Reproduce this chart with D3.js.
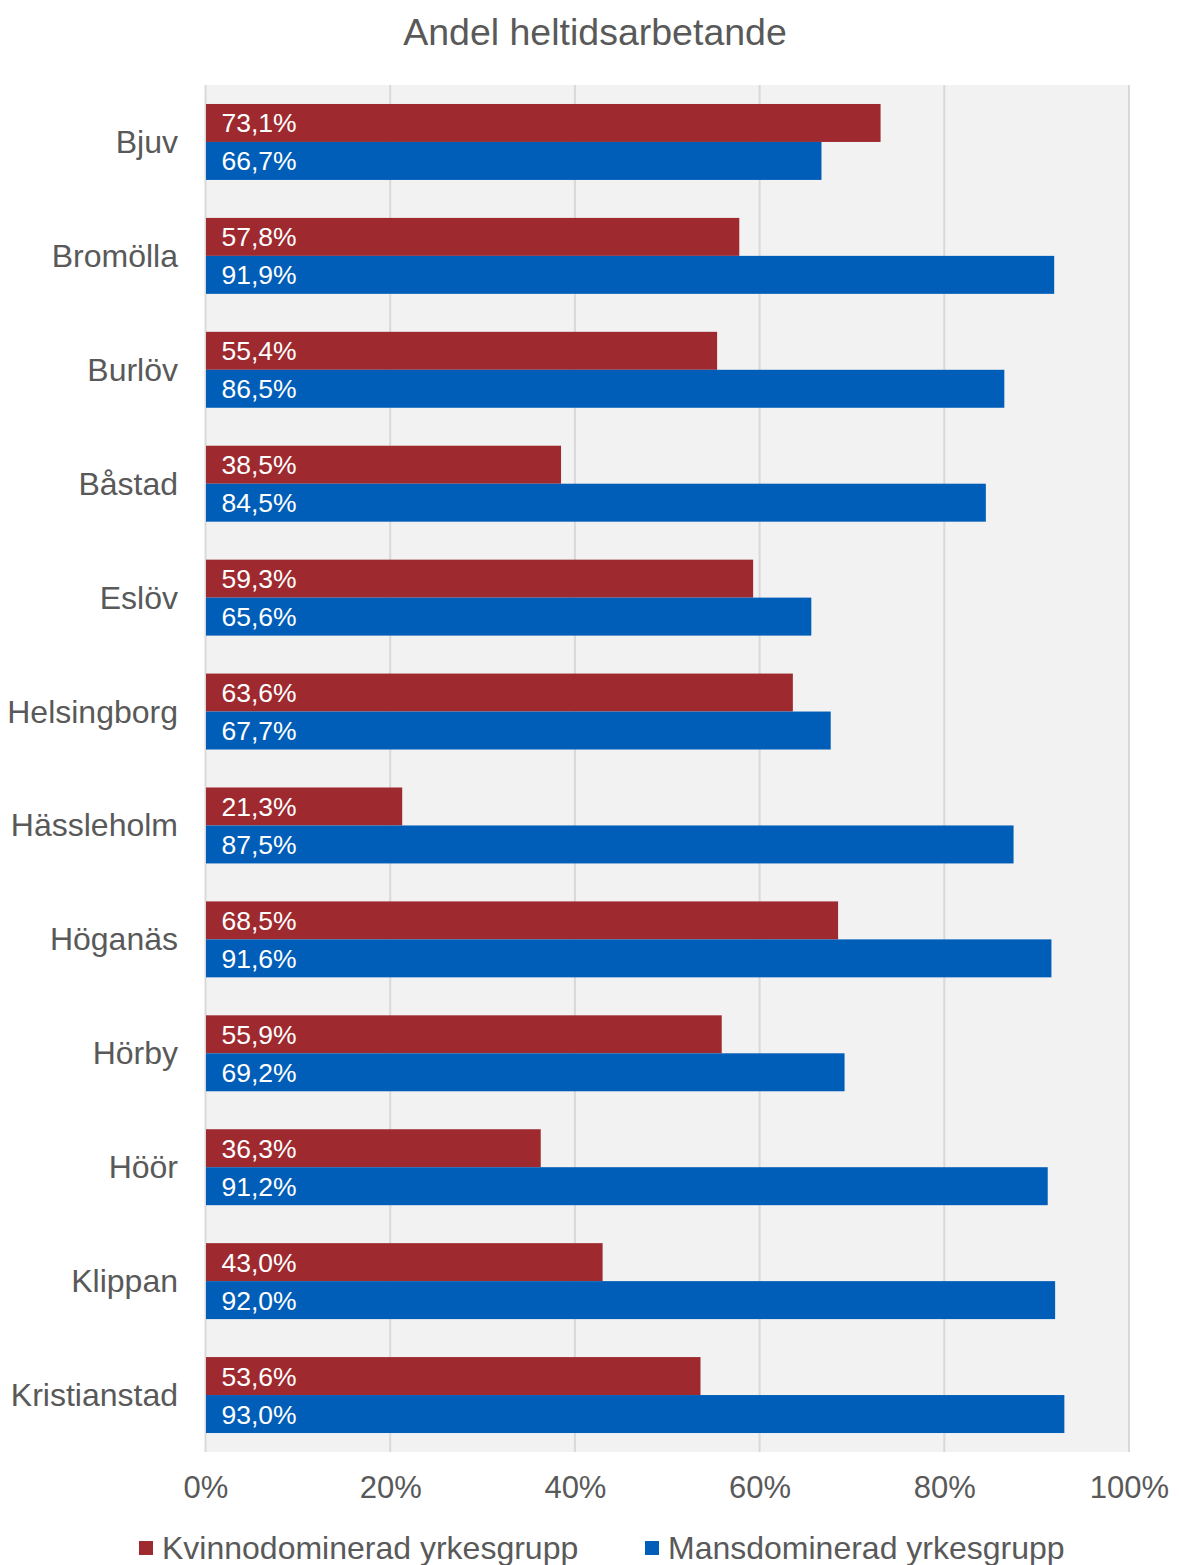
<!DOCTYPE html>
<html><head><meta charset="utf-8">
<script src="https://cdn.jsdelivr.net/npm/d3@7"></script>
<style>body{margin:0;background:#fff}svg{display:block;font-family:"Liberation Sans",Arial,sans-serif}</style>
</head><body>
<svg id="c" width="1179" height="1565"></svg>
<script>
const categories = ["Bjuv","Bromölla","Burlöv","Båstad","Eslöv","Helsingborg","Hässleholm","Höganäs","Hörby","Höör","Klippan","Kristianstad"];
const seriesNames = ["Kvinnodominerad yrkesgrupp","Mansdominerad yrkesgrupp"];
const kvinno = [73.1,57.8,55.4,38.5,59.3,63.6,21.3,68.5,55.9,36.3,43.0,53.6];
const mans = [66.7,91.9,86.5,84.5,65.6,67.7,87.5,91.6,69.2,91.2,92.0,93.0];
const xTicks = [0,20,40,60,80,100];
const colors = ["#9E2A2F","#005EB8"];

const svg = d3.select("#c");
const L = 205.5, R = 1129, T = 85, B = 1452;
const x = d3.scaleLinear().domain([0,100]).range([L,R]);
const y = d3.scaleBand().domain(categories).range([T,B]).paddingInner(0).paddingOuter(0);
const groupH = y.bandwidth()/1.5;
const ys = d3.scaleBand().domain([0,1]).range([0,groupH]);
const fmt = v => d3.format(".1f")(v).replace(".",",") + "%";

svg.append("rect").attr("x",L).attr("y",T).attr("width",R-L).attr("height",B-T).attr("fill","#f2f2f2");
svg.append("g").selectAll("line").data(xTicks).join("line")
  .attr("x1",d=>x(d)).attr("x2",d=>x(d)).attr("y1",T).attr("y2",B)
  .attr("stroke","#d9d9d9").attr("stroke-width",2);

svg.append("text").attr("x",595).attr("y",45).attr("text-anchor","middle")
  .attr("font-size",37.5).attr("fill","#595959").text("Andel heltidsarbetande");

const data = [kvinno, mans];
categories.forEach((c,i)=>{
  const g0 = y(c) + (y.bandwidth()-groupH)/2;
  data.forEach((s,j)=>{
    svg.append("rect").attr("x",x(0)+0.5).attr("y",g0+ys(j))
      .attr("width",x(s[i])-x(0)-0.5).attr("height",ys.bandwidth()).attr("fill",colors[j]);
    svg.append("text").attr("x",x(0)+16).attr("y",g0+ys(j)+ys.bandwidth()/2+9.5)
      .attr("font-size",26.5).attr("fill","#fff").text(fmt(s[i]));
  });
  svg.append("text").attr("x",178).attr("y",y(c)+y.bandwidth()/2+11)
    .attr("text-anchor","end").attr("font-size",32).attr("fill","#595959").text(c);
});

const xa = svg.append("g").attr("transform",`translate(0,${B})`)
  .call(d3.axisBottom(x).tickValues(xTicks).tickSize(0).tickPadding(24).tickFormat(d=>d+"%"));
xa.select(".domain").remove();
xa.selectAll("text").attr("font-size",31).attr("fill","#595959").attr("font-family","Liberation Sans, Arial, sans-serif");

const legX = [139, 645];
seriesNames.forEach((n,j)=>{
  svg.append("rect").attr("x",legX[j]).attr("y",1541).attr("width",14).attr("height",14).attr("fill",colors[j]);
  svg.append("text").attr("x",legX[j]+23).attr("y",1559).attr("font-size",32).attr("fill","#595959").text(n);
});
</script>
</body></html>
